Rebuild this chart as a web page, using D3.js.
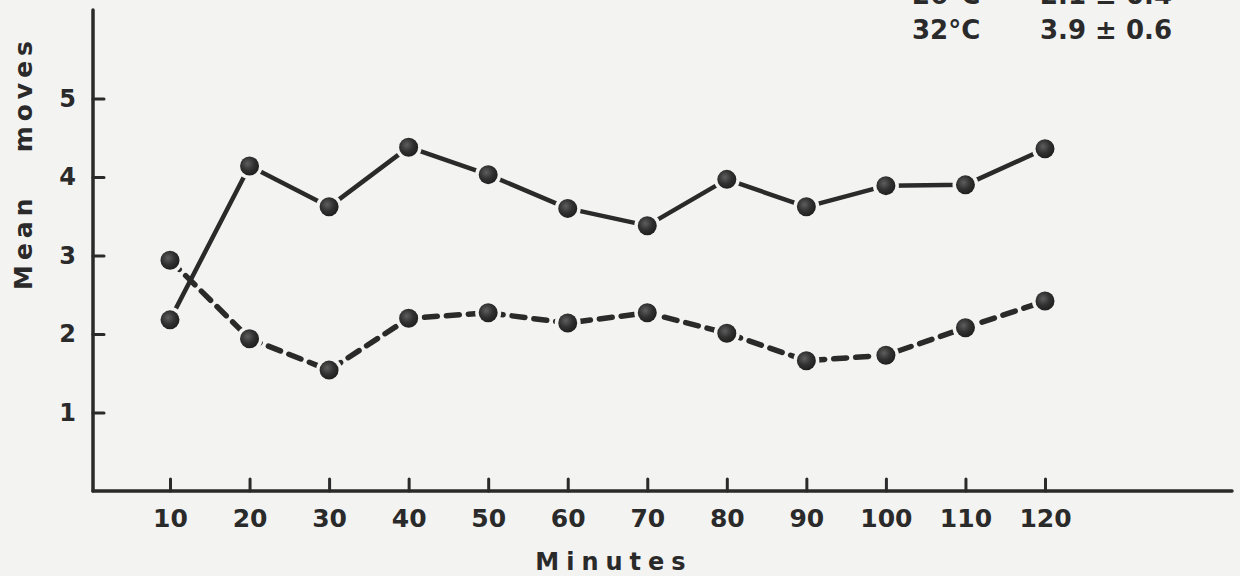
<!DOCTYPE html>
<html>
<head>
<meta charset="utf-8">
<script src="https://cdn.jsdelivr.net/npm/d3@7/dist/d3.min.js"></script>
<style>
  html, body { margin: 0; padding: 0; background: #f3f3f1; }
  svg { display: block; }
  text { font-family: "DejaVu Sans", "Open Sans", sans-serif; font-weight: 700; fill: #2a2a2a; }
</style>
</head>
<body>
<svg id="chart" width="1240" height="576"></svg>
<script>
// Minutes after start
const minutes = [10, 20, 30, 40, 50, 60, 70, 80, 90, 100, 110, 120];
// Mean moves per interval, warm condition (solid line)
const moves32 = [2.18, 4.14, 3.62, 4.38, 4.03, 3.60, 3.38, 3.97, 3.62, 3.89, 3.90, 4.36];
// Mean moves per interval, cool condition (dashed line)
const moves26 = [2.94, 1.94, 1.54, 2.20, 2.27, 2.14, 2.27, 2.01, 1.66, 1.73, 2.08, 2.42];
const yTicks = [1, 2, 3, 4, 5];
const legendRows = [
  { temp: "26°C", stat: "2.1 ± 0.4" },
  { temp: "32°C", stat: "3.9 ± 0.6" }
];

const ink = "#2a2a2a";
const paper = "#f3f3f1";
const svg = d3.select("#chart");

const x = d3.scaleLinear().domain([10, 120]).range([170, 1045]);
const y = d3.scaleLinear().domain([0, 5]).range([491, 98.5]);

const axisX0 = 93, axisX1 = 1232, axisYTop = 10;

// Axis lines
svg.append("line")
  .attr("x1", axisX0).attr("x2", axisX0)
  .attr("y1", axisYTop).attr("y2", y(0))
  .attr("stroke", ink).attr("stroke-width", 3.5).attr("stroke-linecap", "round");
svg.append("line")
  .attr("x1", axisX0).attr("x2", axisX1)
  .attr("y1", y(0)).attr("y2", y(0))
  .attr("stroke", ink).attr("stroke-width", 3.5).attr("stroke-linecap", "round");

// X axis ticks pointing up, labels below
const gx = svg.append("g")
  .attr("transform", `translate(0,${y(0)})`)
  .call(d3.axisBottom(x).tickValues(minutes).tickSize(-12).tickPadding(18).tickFormat(d3.format("d")));
gx.select(".domain").remove();
gx.selectAll(".tick line").attr("stroke", ink).attr("stroke-width", 3).attr("stroke-linecap", "round");
gx.selectAll(".tick text").attr("font-size", 25).attr("font-weight", 600).attr("fill", ink);

// Y axis ticks pointing right, labels left
const gy = svg.append("g")
  .attr("transform", `translate(${axisX0},0)`)
  .call(d3.axisLeft(y).tickValues(yTicks).tickSize(-11).tickPadding(17).tickFormat(d3.format("d")));
gy.select(".domain").remove();
gy.selectAll(".tick line").attr("stroke", ink).attr("stroke-width", 3).attr("stroke-linecap", "round");
gy.selectAll(".tick text").attr("font-size", 24).attr("font-weight", 600).attr("fill", ink);

// Axis titles
svg.append("text")
  .attr("x", 614)
  .attr("y", 570)
  .attr("text-anchor", "middle")
  .attr("font-size", 24)
  .attr("letter-spacing", 7)
  .text("Minutes");

svg.append("text")
  .attr("transform", "translate(32,163) rotate(-90)")
  .attr("text-anchor", "middle")
  .attr("font-size", 25)
  .attr("letter-spacing", 5)
  .attr("xml:space", "preserve")
  .style("white-space", "pre")
  .text("Mean   moves");

// Series
const series = [
  { values: moves32, dash: null, width: 4.5 },
  { values: moves26, dash: "13,9", width: 5.5 }
];

const line = d3.line().x(d => x(d[0])).y(d => y(d[1]));

series.forEach(s => {
  const pts = minutes.map((m, i) => [m, s.values[i]]);
  svg.append("path")
    .attr("d", line(pts))
    .attr("fill", "none")
    .attr("stroke", ink)
    .attr("stroke-width", s.width)
    .attr("stroke-linecap", "round")
    .attr("stroke-linejoin", "round")
    .attr("stroke-dasharray", s.dash);
});

// Shading for the round markers
const defs = svg.append("defs");
const grad = defs.append("radialGradient").attr("id", "dot").attr("cx", "40%").attr("cy", "38%").attr("r", "65%");
grad.append("stop").attr("offset", "0%").attr("stop-color", "#5e5e5e");
grad.append("stop").attr("offset", "55%").attr("stop-color", "#303030");
grad.append("stop").attr("offset", "100%").attr("stop-color", "#1e1e1e");

series.forEach(s => {
  const pts = minutes.map((m, i) => [m, s.values[i]]);
  // paper-coloured halo leaves a small gap where lines meet a marker
  svg.append("g").selectAll("circle").data(pts).join("circle")
    .attr("cx", d => x(d[0])).attr("cy", d => y(d[1]))
    .attr("r", 13).attr("fill", paper);
  svg.append("g").selectAll("circle").data(pts).join("circle")
    .attr("cx", d => x(d[0])).attr("cy", d => y(d[1]))
    .attr("r", 9.5).attr("fill", "url(#dot)");
});

// Summary table in the upper right
const lg = svg.append("g");
legendRows.forEach((r, i) => {
  const by = 4 + i * 35;
  lg.append("text").attr("x", 912).attr("y", by).attr("font-size", 26).attr("font-weight", 600).text(r.temp);
  lg.append("text").attr("x", 1040).attr("y", by).attr("font-size", 26).attr("font-weight", 600).text(r.stat);
});
</script>
</body>
</html>
